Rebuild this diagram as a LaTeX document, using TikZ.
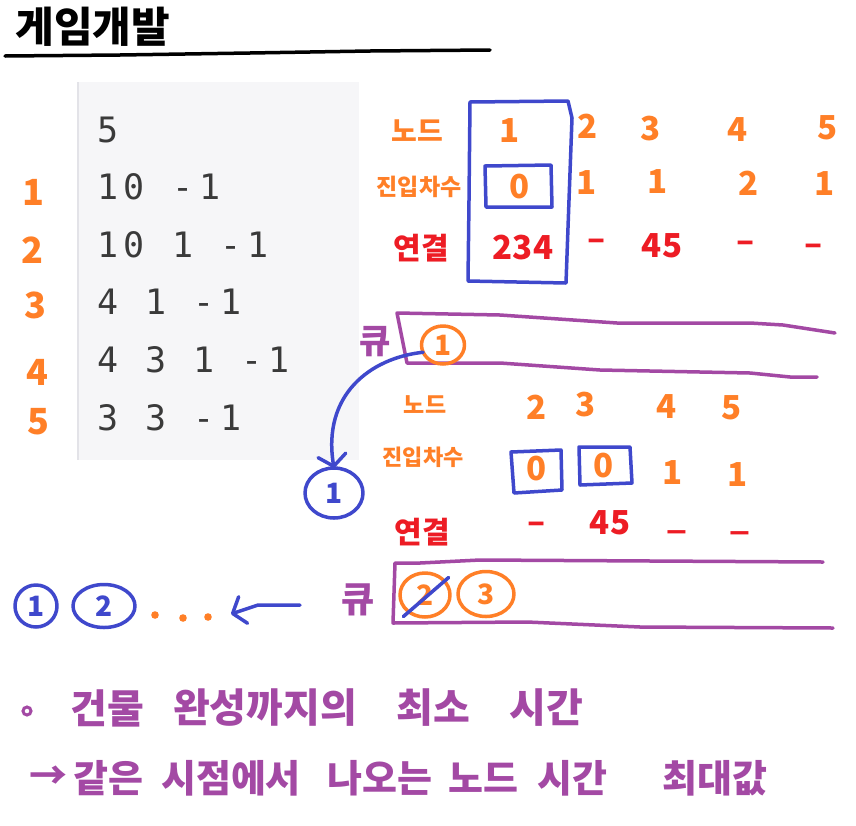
\documentclass[tikz,border=0pt]{standalone}
\usepackage{fontspec}
\usetikzlibrary{shapes.geometric,arrows.meta}
\newfontfamily\kr{Noto Sans CJK KR}
\newfontfamily\codefont[LetterSpace=17]{DejaVu Sans Mono}
\definecolor{hwblue}{HTML}{3F48CC}
\definecolor{hworange}{HTML}{FF7F27}
\definecolor{hwred}{HTML}{ED1C24}
\definecolor{hwpurple}{HTML}{A349A4}
\definecolor{codebg}{HTML}{F6F6F8}
\definecolor{codeline}{HTML}{E3E3E8}
\definecolor{codetxt}{HTML}{3A3A3A}
\newcommand\fsz[1]{\fontsize{#1}{#1}\selectfont}
\begin{document}
\begin{tikzpicture}[x=1pt,y=-1pt,
  hw/.style={line width=3.5pt,line cap=round,line join=round},
  lbl/.style={inner sep=0pt,outer sep=0pt,font=\kr\bfseries},
  org/.style={lbl,text=hworange},
  redt/.style={lbl,text=hwred},
  purt/.style={lbl,text=hwpurple},
  codeln/.style={inner sep=0pt,outer sep=0pt,anchor=west,text=codetxt,font=\codefont\fsz{35}},
  ring/.style={ellipse,hw,inner sep=0pt,outer sep=0pt,font=\kr\bfseries\fsz{28}},
  barb/.style={-{Straight Barb[length=11pt,width=28pt,line cap=round,line join=round]}}
]
\useasboundingbox (0,0) rectangle (856,825);
\fill[white] (0,0) rectangle (856,825);

% title
\node[lbl,text=black,font=\kr\bfseries\fsz{42}] (title) at (93,27) {게임개발};
\draw[hw,black] (5,56) -- (120,55) -- (250,53) -- (370,51) -- (490,50);

% code box
\fill[codebg] (77,82) rectangle (359,460);
\draw[codeline,line width=2pt] (78,82) -- (78,460);
\node[codeln] (c0) at (97,130) {5};
\node[codeln] (c1) at (97,187) {10 -1};
\node[codeln] (c2) at (97,245) {10 1 -1};
\node[codeln] (c3) at (97,302) {4 1 -1};
\node[codeln] (c4) at (97,360) {4 3 1 -1};
\node[codeln] (c5) at (97,418) {3 3 -1};

% orange line numbers
\begin{scope}[every node/.style={org,font=\kr\bfseries\fsz{36}}]
\node (n1) at (33,192) {1};
\node (n2) at (32,250) {2};
\node (n3) at (35,305) {3};
\node (n4) at (37,372) {4};
\node (n5) at (38,422) {5};
\end{scope}

% upper table
\node[org,font=\kr\bfseries\fsz{28}] (t1node) at (417,131) {노드};
\node[org,font=\kr\bfseries\fsz{23}] (t1in) at (419,187) {진입차수};
\node[redt,font=\kr\bfseries\fsz{30}] (t1con) at (421,248) {연결};
\begin{scope}[every node/.style={org,font=\kr\bfseries\fsz{33}}]
\node (h1) at (510,131) {1};
\node (h2) at (588,126) {2};
\node (h3) at (651,129) {3};
\node (h4) at (738,130) {4};
\node (h5) at (828,128) {5};
\node (d1) at (520,187) {0};
\node (d2) at (587,183) {1};
\node (d3) at (658,182) {1};
\node (d4) at (749,183) {2};
\node (d5) at (825,184) {1};
\end{scope}
\begin{scope}[every node/.style={redt,font=\kr\bfseries\fsz{33}}]
\node (e1) at (523,248) {234};
\node (e2) at (597,245) {–};
\node (e3) at (662,246) {45};
\node (e4) at (746,247) {–};
\node (e5) at (814,250) {–};
\end{scope}
\draw[hw,hwblue] (470,102) -- (568,101) -- (572,118) -- (569,200) -- (566,283) -- (468,281) -- (469,200) -- cycle;
\draw[hw,hwblue] (485,166) -- (551,165) -- (552,207) -- (486,207) -- cycle;

% queue 1
\node[purt,font=\kr\bfseries\fsz{34}] (q1lbl) at (375,342) {큐};
\draw[hw,hwpurple] (835,333) -- (783,325) -- (750,323) -- (617,323) -- (500,315) -- (397,313) -- (407,363) -- (500,363) -- (600,370) -- (750,373) -- (790,377) -- (817,377);
\node[ring,draw=hworange,text=hworange,minimum width=43pt,minimum height=38pt] (q1a) at (443,345) {1};

% popped node
\node[ring,draw=hwblue,text=hwblue,minimum width=58pt,minimum height=50pt] (b1) at (334,493) {1};
\draw[hw,hwblue,barb] (q1a.200) .. controls (370,358) and (322,395) .. (b1.north);

% second table
\node[org,font=\kr\bfseries\fsz{23}] (t2node) at (425,405) {노드};
\node[org,font=\kr\bfseries\fsz{22}] (t2in) at (423,457) {진입차수};
\node[redt,font=\kr\bfseries\fsz{30}] (t2con) at (422,532) {연결};
\begin{scope}[every node/.style={org,font=\kr\bfseries\fsz{33}}]
\node (g2) at (537,407) {2};
\node (g3) at (586,405) {3};
\node (g4) at (667,407) {4};
\node (g5) at (732,408) {5};
\node (f2) at (537,469) {0};
\node (f3) at (604,466) {0};
\node (f4) at (673,473) {1};
\node (f5) at (738,475) {1};
\end{scope}
\begin{scope}[every node/.style={redt,font=\kr\bfseries\fsz{33}}]
\node (k2) at (537,528) {–};
\node (k3) at (610,523) {45};
\node (k4) at (677,531) {\_};
\node (k5) at (740,532) {\_};
\end{scope}
\draw[hw,hwblue] (511,452) -- (561,450) -- (562,490) -- (514,493) -- cycle;
\draw[hw,hwblue] (579,447) -- (630,447) -- (632,483) -- (580,485) -- cycle;

% queue 2
\node[purt,font=\kr\bfseries\fsz{36}] (q2lbl) at (358,600) {큐};
\draw[hw,hwpurple] (823,562) -- (480,560) -- (420,563) -- (395,563) -- (393,623) -- (527,622) -- (640,627) -- (833,628);
\node[ring,draw=hworange,text=hworange,minimum width=50pt,minimum height=44pt] (q2a) at (425,595) {2};
\node[ring,draw=hworange,text=hworange,minimum width=56pt,minimum height=45pt] (q2b) at (486,594) {3};
\draw[hw,hwblue] (q2a.south west) ++(-4,6) coordinate (s1) -- ([shift={(6,-2)}]q2a.north east) coordinate (s2);

% result order
\node[ring,draw=hwblue,text=hwblue,minimum width=42pt,minimum height=42pt] (r1) at (36,606) {1};
\node[ring,draw=hwblue,text=hwblue,minimum width=62pt,minimum height=43pt] (r2) at (104,606) {2};
\fill[hworange] (155,615) circle (3.8) (183,618) circle (3.8) (208,617) circle (3.8);
\coordinate (a2s) at (300,605);
\coordinate (a2e) at (231,614);
\draw[hw,hwblue,barb] (a2s) -- (258,605) -- (a2e);

% notes
\draw[hwpurple,line width=3pt] (27,711) circle (4);
\begin{scope}[every node/.style={purt,font=\kr\bfseries\fsz{40}}]
\node (w1) at (107,708) {건물};
\node (w2) at (265,708) {완성까지의};
\node (w3) at (433,708) {최소};
\node (w4) at (546,708) {시간};
\end{scope}
\begin{scope}[every node/.style={purt,font=\kr\bfseries\fsz{38}}]
\node (v0) at (48,778) {→};
\node (v1) at (108,778) {같은};
\node (v2) at (231,778) {시점에서};
\node (v3) at (380,778) {나오는};
\node (v4) at (483,778) {노드};
\node (v5) at (572,778) {시간};
\node (v6) at (715,778) {최대값};
\end{scope}
\end{tikzpicture}
\end{document}
